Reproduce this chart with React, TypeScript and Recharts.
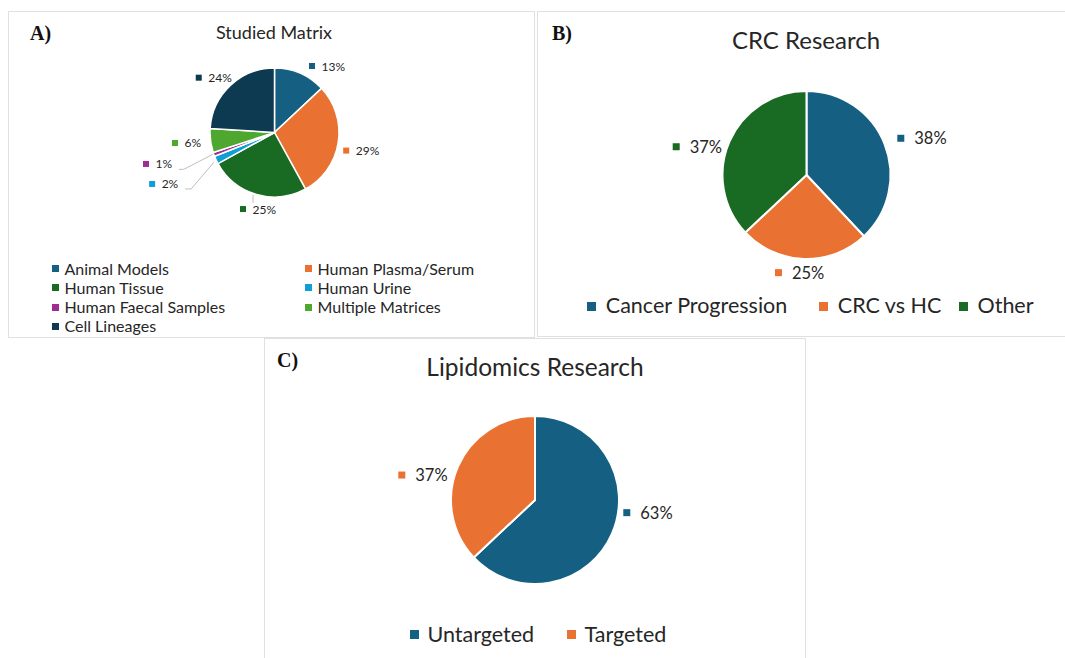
import React from 'react'
import { PieChart, Pie, Cell, Legend } from 'recharts'

// A) Studied Matrix
const matrixNames = [
  'Animal Models',
  'Human Plasma/Serum',
  'Human Tissue',
  'Human Urine',
  'Human Faecal Samples',
  'Multiple Matrices',
  'Cell Lineages',
]
const matrixValues = [13, 29, 25, 2, 1, 6, 24]
const matrixColors = ['#156082', '#E97132', '#196B24', '#0F9ED5', '#A02B93', '#4EA72E', '#0D3A50']

// B) CRC Research
const crcNames = ['Cancer Progression', 'CRC vs HC', 'Other']
const crcValues = [38, 25, 37]
const crcColors = ['#156082', '#E97132', '#196B24']

// C) Lipidomics Research
const lipidNames = ['Untargeted', 'Targeted']
const lipidValues = [63, 37]
const lipidColors = ['#156082', '#E97132']

const FONT = 'Lato, "Open Sans", sans-serif'
const TEXT = '#262626'
const RAD = Math.PI / 180

// label placement: offset from the slice's outer edge point to the label's square
const matrixLabelOffsets = [[8.9, -7.3], [5, 8], [-16.5, 14.6], [-67, 24], [-70.8, 9.6], [-38.5, 2.4], [-34.6, -7.8]]
const matrixLeaders: Record<number, number[][]> = {
  2: [[-3.5, 0.6], [-3.5, 8.6]],
  3: [[-2, 2], [-25, 29], [-31, 29]],
  4: [[-1, 0], [-30, 15], [-35, 15]],
}
const crcLabelOffsets = [[12.7, -5.8], [-28.9, 13.7], [-56.7, 5.1]]
const lipidLabelOffsets = [[11.2, -20.7], [-59.6, 8.4]]

function edge(p: any) {
  return [
    p.cx + p.outerRadius * Math.cos(-p.midAngle * RAD),
    p.cy + p.outerRadius * Math.sin(-p.midAngle * RAD),
  ]
}

function makeLabel(values: number[], colors: string[], offsets: number[][], sq: number, gap: number, fontSize: number) {
  return (p: any) => {
    const [ex, ey] = edge(p)
    const [dx, dy] = offsets[p.index]
    const x = ex + dx
    const y = ey + dy
    return (
      <g key={`lbl-${p.index}`}>
        <rect x={x} y={y - sq / 2} width={sq} height={sq} fill={colors[p.index]} />
        <text
          x={x + sq + gap}
          y={y}
          dominantBaseline="central"
          fontSize={fontSize}
          fontFamily={FONT}
          fill={TEXT}
        >
          {values[p.index]}%
        </text>
      </g>
    )
  }
}

function matrixLine(p: any) {
  const pts = matrixLeaders[p.index]
  if (!pts) return <g key={`ln-${p.index}`} />
  const [ex, ey] = edge(p)
  return (
    <polyline
      key={`ln-${p.index}`}
      points={pts.map(([dx, dy]) => `${ex + dx},${ey + dy}`).join(' ')}
      fill="none"
      stroke="#bfbfbf"
      strokeWidth={1}
    />
  )
}

interface LegendItemPos {
  x: number
  y: number
}

function LegendBlock({ names, colors, pos, sq, gap, fontSize }: {
  names: string[]
  colors: string[]
  pos: LegendItemPos[]
  sq: number
  gap: number
  fontSize: number
}) {
  return (
    <div style={{ position: 'relative', width: '100%', height: '100%' }}>
      {names.map((n, i) => (
        <div
          key={n}
          style={{
            position: 'absolute',
            left: pos[i].x,
            top: pos[i].y - fontSize / 2,
            height: fontSize,
            display: 'flex',
            alignItems: 'center',
            whiteSpace: 'nowrap',
            fontSize,
            fontFamily: FONT,
            color: TEXT,
            lineHeight: 1,
          }}
        >
          <span style={{ display: 'inline-block', width: sq, height: sq, background: colors[i], marginRight: gap }} />
          {n}
        </div>
      ))}
    </div>
  )
}

const matrixLegendX = [44, 297]
const matrixLegendY = [258.3, 277, 296.7, 315.7]
const crcLegendX = [50.3, 282.3, 422]
const lipidLegendX = [146, 303]

function Panel({ left, top, width, height, children }: any) {
  return (
    <div
      style={{
        position: 'absolute',
        left,
        top,
        width,
        height,
        boxSizing: 'border-box',
        border: '1.5px solid #e0e0e0',
        background: '#fff',
      }}
    >
      <div style={{ position: 'absolute', left: -1.5, top: -1.5 }}>{children}</div>
    </div>
  )
}

function Title({ x, y, size, text }: { x: number; y: number; size: number; text: string }) {
  return (
    <div
      style={{
        position: 'absolute',
        left: x - 200,
        top: y - size / 2,
        width: 400,
        textAlign: 'center',
        fontSize: size,
        lineHeight: 1,
        fontFamily: FONT,
        color: TEXT,
      }}
    >
      {text}
    </div>
  )
}

function Letter({ x, y, text }: { x: number; y: number; text: string }) {
  return (
    <div
      style={{
        position: 'absolute',
        left: x,
        top: y - 10,
        fontSize: 20,
        lineHeight: 1,
        fontWeight: 'bold',
        fontFamily: '"Liberation Serif", "Times New Roman", serif',
        color: '#111',
      }}
    >
      {text}
    </div>
  )
}

export default function App() {
  return (
    <div style={{ position: 'absolute', left: 0, top: 0, width: 1065, height: 658, background: '#fff', overflow: 'hidden' }}>
      <Panel left={8} top={11} width={527} height={327}>
        <PieChart width={527} height={327} margin={{ top: 0, right: 0, bottom: 0, left: 0 }}>
          <Pie
            data={matrixNames.map((name, i) => ({ name, value: matrixValues[i] }))}
            dataKey="value"
            nameKey="name"
            cx={266.5}
            cy={121.5}
            outerRadius={64.5}
            startAngle={90}
            endAngle={-270}
            stroke="#fff"
            strokeWidth={1.5}
            isAnimationActive={false}
            label={makeLabel(matrixValues, matrixColors, matrixLabelOffsets, 6, 6.5, 12)}
            labelLine={matrixLine}
          >
            {matrixNames.map((n, i) => (
              <Cell key={n} fill={matrixColors[i]} />
            ))}
          </Pie>
          <Legend
            wrapperStyle={{ left: 0, top: 0, width: 527, height: 327, pointerEvents: 'none' }}
            content={() => (
              <LegendBlock
                names={matrixNames}
                colors={matrixColors}
                pos={matrixNames.map((_, i) => ({ x: matrixLegendX[i % 2], y: matrixLegendY[Math.floor(i / 2)] }))}
                sq={7}
                gap={6}
                fontSize={16}
              />
            )}
          />
        </PieChart>
      </Panel>

      <Panel left={537} top={11} width={530} height={326}>
        <PieChart width={530} height={326} margin={{ top: 0, right: 0, bottom: 0, left: 0 }}>
          <Pie
            data={crcNames.map((name, i) => ({ name, value: crcValues[i] }))}
            dataKey="value"
            nameKey="name"
            cx={269.5}
            cy={164}
            outerRadius={84}
            startAngle={90}
            endAngle={-270}
            stroke="#fff"
            strokeWidth={2}
            isAnimationActive={false}
            label={makeLabel(crcValues, crcColors, crcLabelOffsets, 7, 10, 16.5)}
            labelLine={false}
          >
            {crcNames.map((n, i) => (
              <Cell key={n} fill={crcColors[i]} />
            ))}
          </Pie>
          <Legend
            wrapperStyle={{ left: 0, top: 0, width: 530, height: 326, pointerEvents: 'none' }}
            content={() => (
              <LegendBlock
                names={crcNames}
                colors={crcColors}
                pos={crcNames.map((_, i) => ({ x: crcLegendX[i], y: 295.7 }))}
                sq={9}
                gap={10}
                fontSize={21.5}
              />
            )}
          />
        </PieChart>
      </Panel>

      <Panel left={264} top={338} width={542} height={322}>
        <PieChart width={542} height={322} margin={{ top: 0, right: 0, bottom: 0, left: 0 }}>
          <Pie
            data={lipidNames.map((name, i) => ({ name, value: lipidValues[i] }))}
            dataKey="value"
            nameKey="name"
            cx={271}
            cy={162}
            outerRadius={84}
            startAngle={90}
            endAngle={-270}
            stroke="#fff"
            strokeWidth={2}
            isAnimationActive={false}
            label={makeLabel(lipidValues, lipidColors, lipidLabelOffsets, 7, 10, 16.5)}
            labelLine={false}
          >
            {lipidNames.map((n, i) => (
              <Cell key={n} fill={lipidColors[i]} />
            ))}
          </Pie>
          <Legend
            wrapperStyle={{ left: 0, top: 0, width: 542, height: 322, pointerEvents: 'none' }}
            content={() => (
              <LegendBlock
                names={lipidNames}
                colors={lipidColors}
                pos={lipidNames.map((_, i) => ({ x: lipidLegendX[i], y: 297 }))}
                sq={9}
                gap={9}
                fontSize={21.5}
              />
            )}
          />
        </PieChart>
      </Panel>

      <Title x={274} y={32} size={18} text="Studied Matrix" />
      <Title x={806} y={40} size={24} text="CRC Research" />
      <Title x={535} y={367} size={24.5} text="Lipidomics Research" />
      <Letter x={30} y={33} text="A)" />
      <Letter x={552} y={33} text="B)" />
      <Letter x={277} y={360} text="C)" />
    </div>
  )
}
